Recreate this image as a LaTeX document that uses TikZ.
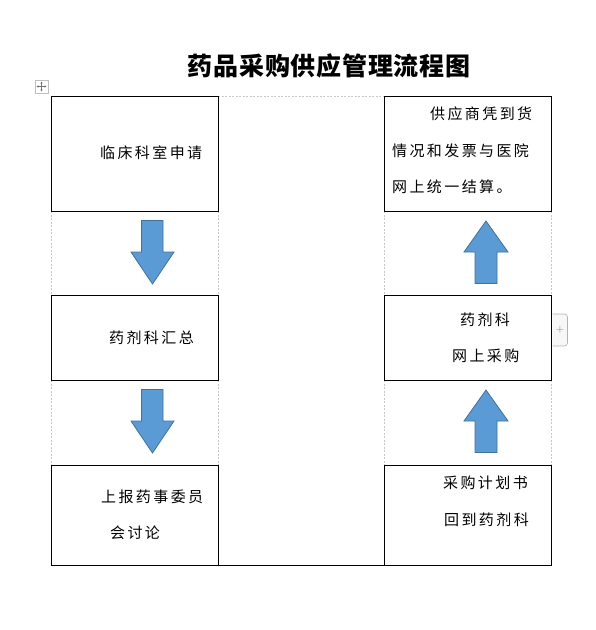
\documentclass[tikz,border=0pt]{standalone}
\usepackage{fontspec}
\usetikzlibrary{calc,arrows.meta}
\newfontfamily\cjk[LetterSpace=16]{Noto Sans CJK SC}
\newfontfamily\cjkt[LetterSpace=3]{Noto Sans CJK SC}
\begin{document}
\begin{tikzpicture}[x=1pt,y=-1pt,
  cell/.style={draw=black,line width=0.9pt,fill=white},
  grid/.style={draw=black!22,line width=0.6pt,dash pattern=on 2pt off 1.5pt},
  txt/.style={anchor=west,inner sep=0pt,font=\cjk\fontsize{15}{17}\selectfont},
  arr/.style={fill=arrowfill,draw=arrowline,line width=0.8pt,line join=miter},
  hnd/.style={black!55,line width=0.6pt,-{Latex[length=1.8pt,width=2.4pt]}}]
\definecolor{arrowfill}{HTML}{5B9BD5}
\definecolor{arrowline}{HTML}{41719C}
\useasboundingbox (0,0) rectangle (596,630);
% title
\node[anchor=center,inner sep=0pt,font=\cjkt\bfseries\fontsize{25}{28}\selectfont] (title) at (329,66) {药品采购供应管理流程图};
% move handle
\node[draw=black!25,fill=white,minimum size=13pt,inner sep=0pt,line width=0.5pt] (handle) at (41.5,86.5) {};
\draw[hnd] (handle.center) -- ++(-5,0);
\draw[hnd] (handle.center) -- ++(5,0);
\draw[hnd] (handle.center) -- ++(0,-5);
\draw[hnd] (handle.center) -- ++(0,5);
% table grid (dashed)
\draw[grid] (218,96) -- (384,96);
\draw[grid] (51,211) -- (51,295) (218,211) -- (218,295) (384,211) -- (384,295) (551,211) -- (551,295);
\draw[grid] (51,380) -- (51,465) (218,380) -- (218,465) (384,380) -- (384,465) (551,380) -- (551,465);
% bottom line
\draw[black,line width=0.9pt] (218,565) -- (384,565);
% boxes
\node[cell,minimum width=167pt,minimum height=115pt,inner sep=0pt] (b1) at (134.5,153.5) {};
\node[cell,minimum width=167pt,minimum height=85pt,inner sep=0pt] (b2) at (134.5,337.5) {};
\node[cell,minimum width=167pt,minimum height=100pt,inner sep=0pt] (b3) at (134.5,515) {};
\node[cell,minimum width=167pt,minimum height=115pt,inner sep=0pt] (b4) at (467.5,153.5) {};
\node[cell,minimum width=167pt,minimum height=85pt,inner sep=0pt] (b5) at (467.5,337.5) {};
\node[cell,minimum width=167pt,minimum height=100pt,inner sep=0pt] (b6) at (467.5,515) {};
% texts
\node[txt] (t1) at (100,153) {临床科室申请};
\node[txt] (t2) at (109,338) {药剂科汇总};
\node[txt] (t3a) at (101,497) {上报药事委员};
\node[txt] (t3b) at (110,533) {会讨论};
\node[txt] (t4a) at (430,114) {供应商凭到货};
\node[txt] (t4b) at (392,151) {情况和发票与医院};
\node[txt] (t4c) at (392,187) {网上统一结算。};
\node[txt] (t5a) at (460,320) {药剂科};
\node[txt] (t5b) at (452,356) {网上采购};
\node[txt] (t6a) at (443,483) {采购计划书};
\node[txt] (t6b) at (444,520) {回到药剂科};
% down arrows
\draw[arr] (141.5,220.5) -- (163,220.5) -- (163,252) -- (174,252) -- (152.5,284) -- (131,252) -- (141.5,252) -- cycle;
\draw[arr] (141.5,389.5) -- (163,389.5) -- (163,421) -- (174,421) -- (152.5,453) -- (131,421) -- (141.5,421) -- cycle;
% up arrows
\draw[arr] (475,283.5) -- (497,283.5) -- (497,252) -- (508,252) -- (486,221) -- (464,252) -- (475,252) -- cycle;
\draw[arr] (475,452.5) -- (497,452.5) -- (497,421) -- (508,421) -- (486,390) -- (464,421) -- (475,421) -- cycle;
% add-row tab
\draw[draw=black!30,fill=black!3,line width=0.6pt,rounded corners=3pt] (552.5,314) -- (567.5,314) -- (567.5,346) -- (552.5,346);
\node[inner sep=0pt,text=black!55,font=\fontsize{11}{12}\selectfont] (plus) at (560,330) {+};
\end{tikzpicture}
\end{document}
